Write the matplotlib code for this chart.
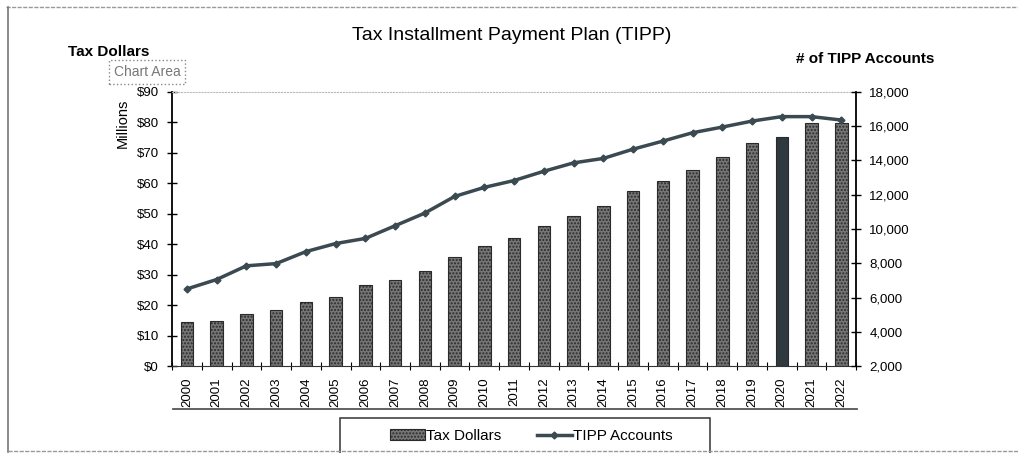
import matplotlib as mpl
mpl.use('Agg')
import matplotlib.pyplot as plt
import matplotlib.patches as patches
import matplotlib.lines as mlines
import numpy as np

plt.rcParams['font.family'] = ['Liberation Sans', 'DejaVu Sans']
mpl.rcParams['hatch.color'] = '#b5b5b5'

# Data
years = [str(y) for y in range(2000, 2023)]
tax_dollars = [14.3, 14.7, 17.0, 18.3, 21.1, 22.6, 26.5, 28.4, 31.1, 35.7, 39.3, 42.2,
               46.0, 49.4, 52.4, 57.4, 60.7, 64.5, 68.5, 73.3, 75.3, 79.7, 79.9]
tipp_accounts = [6500, 7050, 7850, 7980, 8680, 9150, 9450, 10190, 10930, 11900, 12430, 12830,
                 13370, 13860, 14120, 14660, 15130, 15620, 15950, 16300, 16560, 16560, 16360]
left_ticks = list(range(0, 100, 10))
right_ticks = list(range(2000, 20000, 2000))

W, H = 1018.0, 453.0
fig = plt.figure(figsize=(10.18, 4.53), dpi=100)
ax = fig.add_axes([0.169, 0.192, 0.672, 0.605])

x = np.arange(len(years))
bar_colors = ['#767676'] * len(years)
bar_colors[years.index('2020')] = '#2e3a40'
bars = ax.bar(x, tax_dollars, width=0.42, color=bar_colors, edgecolor='#2a2a2a',
              linewidth=0.8, label='Tax Dollars', zorder=2)
for b in bars:
    if b.get_facecolor()[0] > 0.3:
        b.set_hatch('.....')

ax.set_xlim(-0.5, len(years) - 0.5)
ax.set_ylim(0, 90)
ax.set_yticks(left_ticks)
ax.set_yticklabels(['$%d' % v for v in left_ticks], fontsize=9.5)
ax.set_xticks(x)
ax.set_xticklabels(years, rotation=90, fontsize=9.5)
ax.tick_params(axis='x', length=0, pad=8)
ax.tick_params(axis='y', direction='inout', length=7, width=1, pad=6)
ax.set_xticks(np.arange(-0.5, len(years), 1), minor=True)
ax.tick_params(axis='x', which='minor', direction='inout', length=6, width=0.8)
ax.set_ylabel('Millions', fontsize=10.5)
ax.yaxis.set_label_coords(-0.062, 0.885)

ax.spines['top'].set_color('#bbbbbb')
ax.spines['top'].set_linestyle(':')
ax.spines['bottom'].set_color('#333333')
ax.spines['bottom'].set_linestyle((0, (2, 1)))
ax.spines['left'].set_linewidth(1.3)
ax.spines['right'].set_visible(False)

ax2 = ax.twinx()
ax2.plot(x, tipp_accounts, color='#3b4a50', linewidth=2.5, marker='D', markersize=3.5,
         label='TIPP Accounts', zorder=3)
ax2.set_ylim(2000, 18000)
ax2.set_yticks(right_ticks)
ax2.set_yticklabels(['{:,}'.format(v) for v in right_ticks], fontsize=9.5)
ax2.tick_params(axis='y', direction='inout', length=7, width=1, pad=6)
ax2.spines['right'].set_linewidth(1.3)
for s in ['top', 'left', 'bottom']:
    ax2.spines[s].set_visible(False)

fig.text(0.503, 0.922, 'Tax Installment Payment Plan (TIPP)', ha='center', va='center',
         fontsize=14)
fig.text(0.067, 0.885, 'Tax Dollars', ha='left', va='center', fontsize=11, fontweight='bold')
fig.text(0.918, 0.870, '# of TIPP Accounts', ha='right', va='center', fontsize=11,
         fontweight='bold')
fig.text(0.1444, 0.841, 'Chart Area', ha='center', va='center', fontsize=10, color='#777777',
         bbox=dict(boxstyle='square,pad=0.35', fc='white', ec='#888888', ls=':', lw=1))

# legend without its own frame; frame drawn as a box cut off by the image bottom
h1, l1 = ax.get_legend_handles_labels()
h2, l2 = ax2.get_legend_handles_labels()
leg = fig.legend(h1 + h2, l1 + l2, loc='center', bbox_to_anchor=(0.522, 1 - 436 / H), ncol=2,
                 fontsize=11, frameon=False, columnspacing=2.3, handlelength=2.3,
                 handletextpad=0.1, borderaxespad=0, borderpad=0)
fig.add_artist(patches.Rectangle((340 / W, -0.02), 370 / W, 0.02 + 1 - 418 / H,
                                 transform=fig.transFigure, fill=False, ec='#333333', lw=1.1))

# line under the year labels
fig.add_artist(mlines.Line2D([173 / W, 857 / W], [1 - 409 / H] * 2, transform=fig.transFigure,
                             color='#555555', lw=1.3))

# outer chart border (top, left, bottom)
fig.add_artist(mlines.Line2D([6 / W, 1.0], [1 - 7 / H] * 2, transform=fig.transFigure,
                             color='#999999', lw=1, ls=(0, (3, 1))))
fig.add_artist(mlines.Line2D([8 / W] * 2, [1 - 452 / H, 1 - 7 / H], transform=fig.transFigure,
                             color='#777777', lw=1.2))
fig.add_artist(mlines.Line2D([8 / W, 1.0], [1 - 451 / H] * 2, transform=fig.transFigure,
                             color='#999999', lw=1, ls=(0, (3, 1))))

fig.savefig('out.png', dpi=100)
